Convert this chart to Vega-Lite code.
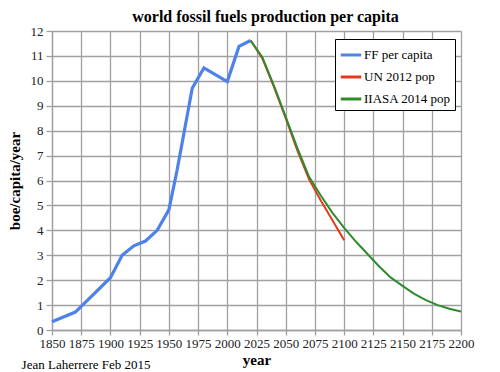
{
  "$schema": "https://vega.github.io/schema/vega-lite/v6.json",
  "width": 409,
  "height": 299,
  "autosize": "none",
  "padding": {"left": 52, "top": 31, "right": 39, "bottom": 42},
  "background": "white",
  "title": {
    "text": "world fossil fuels production per capita",
    "font": "Liberation Serif",
    "fontSize": 16,
    "fontWeight": "bold",
    "color": "black",
    "anchor": "middle",
    "dx": 9,
    "offset": 0
  },
  "config": {"view": {"stroke": null}},
  "data": {
    "values": [
      {"year": 1850, "v": 0.33, "s": "FF per capita"},
      {"year": 1870, "v": 0.72, "s": "FF per capita"},
      {"year": 1900, "v": 2.1, "s": "FF per capita"},
      {"year": 1910, "v": 3.0, "s": "FF per capita"},
      {"year": 1920, "v": 3.38, "s": "FF per capita"},
      {"year": 1930, "v": 3.57, "s": "FF per capita"},
      {"year": 1940, "v": 4.0, "s": "FF per capita"},
      {"year": 1950, "v": 4.82, "s": "FF per capita"},
      {"year": 1957, "v": 6.4, "s": "FF per capita"},
      {"year": 1970, "v": 9.7, "s": "FF per capita"},
      {"year": 1980, "v": 10.52, "s": "FF per capita"},
      {"year": 2000, "v": 9.97, "s": "FF per capita"},
      {"year": 2010, "v": 11.38, "s": "FF per capita"},
      {"year": 2020, "v": 11.62, "s": "FF per capita"},
      {"year": 2020, "v": 11.62, "s": "UN 2012 pop"},
      {"year": 2030, "v": 10.9, "s": "UN 2012 pop"},
      {"year": 2040, "v": 9.75, "s": "UN 2012 pop"},
      {"year": 2050, "v": 8.5, "s": "UN 2012 pop"},
      {"year": 2060, "v": 7.2, "s": "UN 2012 pop"},
      {"year": 2070, "v": 6.05, "s": "UN 2012 pop"},
      {"year": 2080, "v": 5.2, "s": "UN 2012 pop"},
      {"year": 2090, "v": 4.4, "s": "UN 2012 pop"},
      {"year": 2100, "v": 3.6, "s": "UN 2012 pop"},
      {"year": 2020, "v": 11.62, "s": "IIASA 2014 pop"},
      {"year": 2030, "v": 10.95, "s": "IIASA 2014 pop"},
      {"year": 2040, "v": 9.8, "s": "IIASA 2014 pop"},
      {"year": 2050, "v": 8.55, "s": "IIASA 2014 pop"},
      {"year": 2060, "v": 7.3, "s": "IIASA 2014 pop"},
      {"year": 2070, "v": 6.15, "s": "IIASA 2014 pop"},
      {"year": 2080, "v": 5.4, "s": "IIASA 2014 pop"},
      {"year": 2090, "v": 4.7, "s": "IIASA 2014 pop"},
      {"year": 2100, "v": 4.1, "s": "IIASA 2014 pop"},
      {"year": 2110, "v": 3.55, "s": "IIASA 2014 pop"},
      {"year": 2120, "v": 3.05, "s": "IIASA 2014 pop"},
      {"year": 2130, "v": 2.55, "s": "IIASA 2014 pop"},
      {"year": 2140, "v": 2.1, "s": "IIASA 2014 pop"},
      {"year": 2150, "v": 1.77, "s": "IIASA 2014 pop"},
      {"year": 2160, "v": 1.45, "s": "IIASA 2014 pop"},
      {"year": 2170, "v": 1.2, "s": "IIASA 2014 pop"},
      {"year": 2180, "v": 1.0, "s": "IIASA 2014 pop"},
      {"year": 2190, "v": 0.85, "s": "IIASA 2014 pop"},
      {"year": 2200, "v": 0.74, "s": "IIASA 2014 pop"}
    ]
  },
  "encoding": {
    "x": {
      "field": "year",
      "type": "quantitative",
      "scale": {"domain": [1850, 2200], "nice": false, "zero": false},
      "axis": {
        "values": [1850, 1875, 1900, 1925, 1950, 1975, 2000, 2025, 2050, 2075, 2100, 2125, 2150, 2175, 2200],
        "format": "d",
        "title": "year",
        "titleFont": "Liberation Serif",
        "titleFontSize": 15,
        "titleFontWeight": "bold",
        "titleColor": "black",
        "titlePadding": 2,
        "labelFont": "Times New Roman, Liberation Serif, serif",
        "labelFontSize": 13,
        "labelColor": "#222",
        "labelPadding": 2,
        "labelFlush": false,
        "gridColor": "#a0a0a0",
        "gridWidth": 1.3,
        "gridOpacity": 1,
        "domainColor": "#a0a0a0",
        "domainWidth": 1.3,
        "tickColor": "#a0a0a0",
        "tickWidth": 1.3,
        "tickSize": 5
      }
    },
    "y": {
      "field": "v",
      "type": "quantitative",
      "scale": {"domain": [0, 12], "nice": false},
      "axis": {
        "values": [0, 1, 2, 3, 4, 5, 6, 7, 8, 9, 10, 11, 12],
        "title": "boe/capita/year",
        "titleFont": "Liberation Serif",
        "titleFontSize": 15,
        "titleFontWeight": "bold",
        "titleColor": "black",
        "titlePadding": 8,
        "labelFont": "Times New Roman, Liberation Serif, serif",
        "labelFontSize": 13,
        "labelColor": "#222",
        "labelPadding": 3,
        "gridColor": "#a0a0a0",
        "gridWidth": 1.3,
        "gridOpacity": 1,
        "domainColor": "#a0a0a0",
        "domainWidth": 1.3,
        "tickColor": "#a0a0a0",
        "tickWidth": 1.3,
        "tickSize": 6
      }
    }
  },
  "layer": [
    {
      "transform": [{"filter": "datum.s === 'FF per capita'"}],
      "mark": {"type": "line", "strokeWidth": 3.2},
      "encoding": {
        "color": {
          "field": "s",
          "type": "nominal",
          "scale": {
            "domain": ["FF per capita", "UN 2012 pop", "IIASA 2014 pop"],
            "range": ["#4f82e8", "#e03a1f", "#2d8c2d"]
          },
          "legend": {
            "title": null,
            "orient": "none",
            "legendX": 283,
            "legendY": 8,
            "direction": "vertical",
            "fillColor": "white",
            "strokeColor": "black",
            "padding": 4,
            "symbolType": "stroke",
            "symbolSize": 420,
            "symbolStrokeWidth": 3,
            "labelFont": "Liberation Serif",
            "labelFontSize": 13,
            "labelColor": "black",
            "rowPadding": 3,
            "labelOffset": 1,
            "labelLimit": 200
          }
        }
      }
    },
    {
      "transform": [{"filter": "datum.s === 'UN 2012 pop'"}],
      "mark": {"type": "line", "strokeWidth": 2},
      "encoding": {"color": {"field": "s", "type": "nominal"}}
    },
    {
      "transform": [{"filter": "datum.s === 'IIASA 2014 pop'"}],
      "mark": {"type": "line", "strokeWidth": 2},
      "encoding": {"color": {"field": "s", "type": "nominal"}}
    },
    {
      "data": {"values": [{"label": "Jean Laherrere Feb 2015", "year": 1824, "v": -1.4}]},
      "mark": {
        "type": "text",
        "align": "left",
        "baseline": "middle",
        "font": "Liberation Serif",
        "fontSize": 13,
        "fill": "black",
        "clip": false
      },
      "encoding": {
        "text": {"field": "label", "type": "nominal"}
      }
    }
  ]
}
